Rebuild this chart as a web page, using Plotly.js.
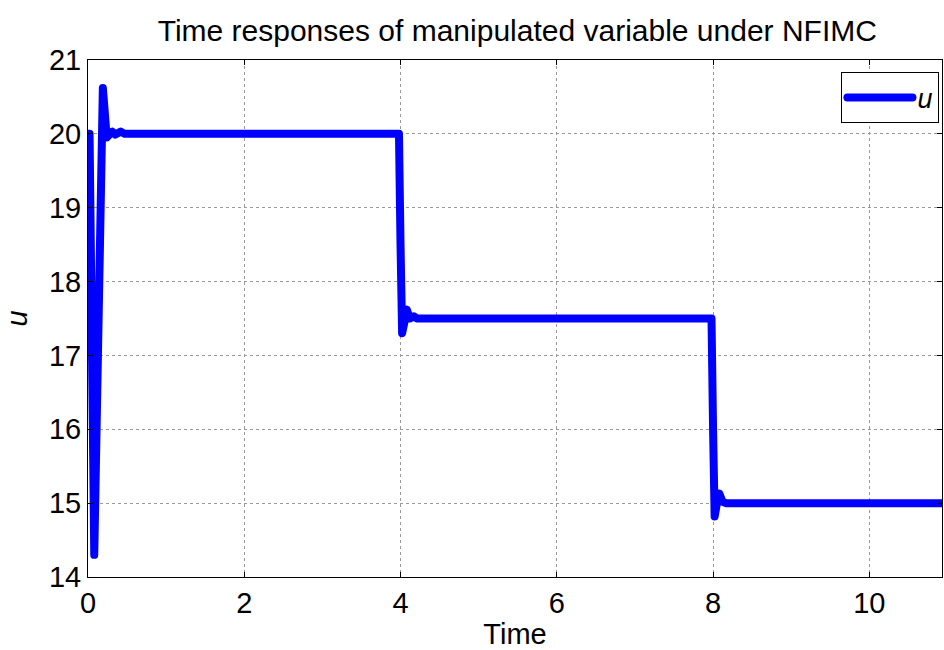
<!DOCTYPE html>
<html>
<head>
<meta charset="utf-8">
<script src="https://cdn.plot.ly/plotly-3.0.1.min.js"></script>
<style>
html,body{margin:0;padding:0;background:#fff;}
#chart{width:944px;height:650px;}
#chart path.js-line{stroke-linejoin:round !important;stroke-linecap:round !important;}
</style>
</head>
<body>
<div id="chart"></div>
<script>
// Time samples (s) and manipulated variable u
const time = [0, 0.02, 0.08, 0.13, 0.19, 0.24, 0.28, 0.31, 0.35, 0.39, 0.42, 0.47, 0.6, 1.5, 3.0, 3.98,
              4.0, 4.02, 4.05, 4.08, 4.12, 4.17, 4.21, 4.26, 5.0, 6.5, 7.98,
              8.0, 8.02, 8.05, 8.08, 8.12, 8.17, 9.0, 10.0, 11.0];
const u    = [20.0, 20.0, 14.3, 17.5, 20.62, 19.95, 19.98, 20.03, 19.99, 20.0, 20.03, 20.0, 20.0, 20.0, 20.0, 20.0,
              18.5, 17.3, 17.45, 17.62, 17.5, 17.53, 17.5, 17.5, 17.5, 17.5, 17.5,
              16.0, 14.82, 15.0, 15.13, 15.02, 15.0, 15.0, 15.0, 15.0];
const xTicks = [0, 2, 4, 6, 8, 10];
const yTicks = [14, 15, 16, 17, 18, 19, 20, 21];

const font = {family: 'Liberation Sans, Arial, sans-serif', color: '#000'};
const f = s => Object.assign({size: s}, font);

Plotly.newPlot('chart', [{
  x: time, y: u, type: 'scatter', mode: 'lines', name: '<i>u</i>',
  line: {color: '#0000ff', width: 8, shape: 'linear'}
}], {
  width: 944, height: 650,
  margin: {l: 88, r: 2, t: 60, b: 73},
  paper_bgcolor: '#fff', plot_bgcolor: '#fff',
  font: f(29),
  title: {text: 'Time responses of manipulated variable under NFIMC', x: 0.548, xanchor: 'center',
          xref: 'container', yref: 'container', y: 0.953, yanchor: 'middle', font: f(30)},
  xaxis: {range: [0, 10.93], tickvals: xTicks, ticktext: xTicks.map(String),
          showline: true, linecolor: '#000', linewidth: 1, mirror: 'allticks',
          ticks: 'inside', ticklen: 5, tickcolor: '#000',
          showgrid: true, gridcolor: '#999', griddash: 'dot', gridwidth: 1, zeroline: false,
          tickfont: f(29),
          title: {text: 'Time', font: f(29), standoff: 5}},
  yaxis: {range: [14, 21], tickvals: yTicks, ticktext: yTicks.map(String),
          showline: true, linecolor: '#000', linewidth: 1, mirror: 'allticks',
          ticks: 'inside', ticklen: 5, tickcolor: '#000',
          showgrid: true, gridcolor: '#999', griddash: 'dot', gridwidth: 1, zeroline: false,
          tickfont: f(29),
          title: {text: '<i>u</i>', font: f(29), standoff: 12}},
  showlegend: true,
  legend: {x: 0.997, xanchor: 'right', y: 0.976, yanchor: 'top',
           bgcolor: '#fff', bordercolor: '#000', borderwidth: 1,
           font: f(27), itemwidth: 65}
}, {displayModeBar: false, staticPlot: true});
</script>
</body>
</html>
